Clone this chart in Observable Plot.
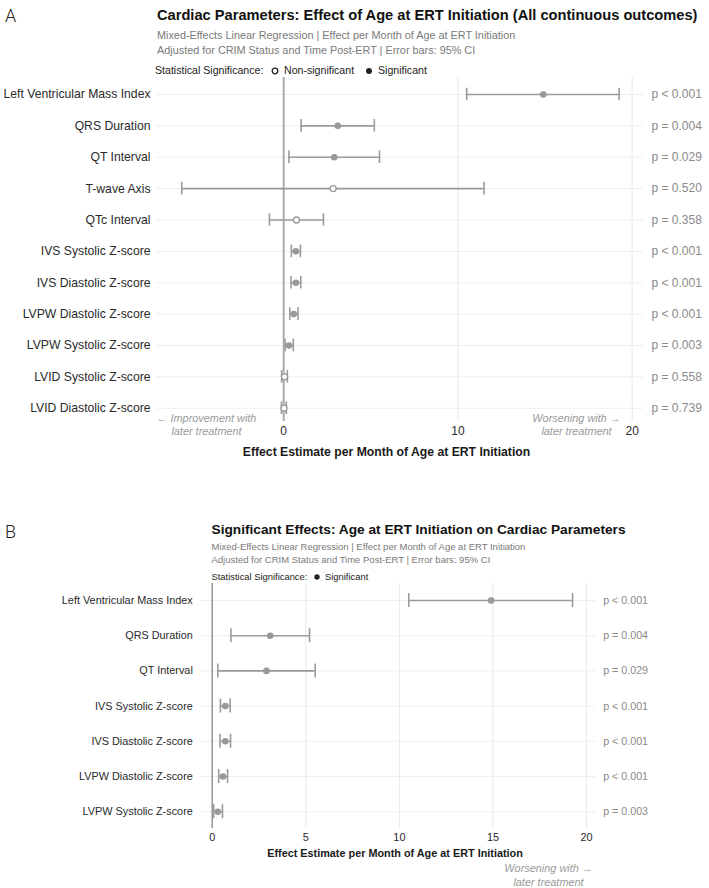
<!DOCTYPE html>
<html><head><meta charset="utf-8">
<script src="https://cdn.jsdelivr.net/npm/d3@7"></script>
<script src="https://cdn.jsdelivr.net/npm/@observablehq/plot@0.6"></script>
<style>
body{margin:0;background:#fff;font-family:"Liberation Sans",Arial,sans-serif;}
#page{position:relative;width:709px;height:888px;overflow:hidden;background:#fff;}
.abs{position:absolute;white-space:nowrap;}
</style></head><body><div id="page"></div>
<script>
// ---------------- data ----------------
const outcomes = [
  "Left Ventricular Mass Index", "QRS Duration", "QT Interval", "T-wave Axis",
  "QTc Interval", "IVS Systolic Z-score", "IVS Diastolic Z-score",
  "LVPW Diastolic Z-score", "LVPW Systolic Z-score", "LVID Systolic Z-score",
  "LVID Diastolic Z-score"
];
const estimates = [14.9, 3.1, 2.9, 2.84, 0.73, 0.7, 0.7, 0.58, 0.3, 0.05, 0.02];
const ciLow     = [10.5, 1.0, 0.3, -5.85, -0.82, 0.44, 0.42, 0.35, 0.08, -0.12, -0.13];
const ciHigh    = [19.25, 5.2, 5.5, 11.5, 2.28, 0.96, 0.98, 0.82, 0.55, 0.21, 0.15];
const pLabels   = ["p < 0.001", "p = 0.004", "p = 0.029", "p = 0.520", "p = 0.358",
                   "p < 0.001", "p < 0.001", "p < 0.001", "p = 0.003", "p = 0.558", "p = 0.739"];
const significant = [true, true, true, false, false, true, true, true, true, false, false];

const ticksA = [0, 10, 20];
const ticksB = [0, 5, 10, 15, 20];

const titleA = "Cardiac Parameters: Effect of Age at ERT Initiation (All continuous outcomes)";
const titleB = "Significant Effects: Age at ERT Initiation on Cardiac Parameters";
const subtitle1 = "Mixed-Effects Linear Regression | Effect per Month of Age at ERT Initiation";
const subtitle2 = "Adjusted for CRIM Status and Time Post-ERT | Error bars: 95% CI";
const xLabel = "Effect Estimate per Month of Age at ERT Initiation";
const legendTitle = "Statistical Significance:";
const legendNonSig = "Non-significant";
const legendSig = "Significant";
const noteLeft = "\u2190 Improvement with\nlater treatment";
const noteRight = "Worsening with \u2192\nlater treatment";

// ---------------- build ----------------
const rowsA = outcomes.map((name, i) => ({
  name, est: estimates[i], lo: ciLow[i], hi: ciHigh[i], p: pLabels[i], sig: significant[i]
}));
const rowsB = rowsA.filter(d => d.sig);
const outcomesB = rowsB.map(d => d.name);

const page = document.getElementById("page");
const FONT = '"Liberation Sans", Arial, sans-serif';

function addText(txt, left, cy, size, o = {}) {
  const d = document.createElement("div");
  d.className = "abs";
  d.textContent = txt;
  d.style.left = left + "px";
  d.style.top = (cy - size * 0.62) + "px";
  d.style.fontSize = size + "px";
  d.style.lineHeight = (size * 1.2) + "px";
  d.style.fontFamily = o.family || FONT;
  d.style.fontWeight = o.weight || "normal";
  d.style.color = o.color || "#222";
  page.appendChild(d);
}
function addCircle(cx, cy, r, filled) {
  const ns = "http://www.w3.org/2000/svg";
  const s = document.createElementNS(ns, "svg");
  s.setAttribute("width", 12); s.setAttribute("height", 12);
  s.style.position = "absolute";
  s.style.left = (cx - 6) + "px"; s.style.top = (cy - 6) + "px";
  const c = document.createElementNS(ns, "circle");
  c.setAttribute("cx", 6); c.setAttribute("cy", 6); c.setAttribute("r", r);
  c.setAttribute("fill", filled ? "#222" : "white");
  c.setAttribute("stroke", "#222");
  c.setAttribute("stroke-width", filled ? 0 : 1.3);
  s.appendChild(c);
  page.appendChild(s);
}

// ---- Panel A header ----
addText("A", 5, 16, 18, {family: "Roboto, " + FONT, weight: 300, color: "#222"});
addText(titleA, 157, 16.5, 14.65, {weight: "bold", color: "#111"});
addText(subtitle1, 157, 35.5, 10.85, {color: "#7a7a7a"});
addText(subtitle2, 157, 50.5, 10.85, {color: "#7a7a7a"});
addText(legendTitle, 155, 70.5, 10.6, {color: "#222"});
addCircle(275, 70.5, 2.8, false);
addText(legendNonSig, 284, 70.5, 10.6, {color: "#222"});
addCircle(369, 70.5, 3, true);
addText(legendSig, 378, 70.5, 10.6, {color: "#222"});

// ---- Panel B header ----
addText("B", 5, 532, 18, {family: "Roboto, " + FONT, weight: 300, color: "#222"});
addText(titleB, 211.5, 530.5, 13.7, {weight: "bold", color: "#111"});
addText(subtitle1, 211.5, 546.5, 9.5, {color: "#7a7a7a"});
addText(subtitle2, 211.5, 559.5, 9.5, {color: "#7a7a7a"});
addText(legendTitle, 211.5, 577, 9.4, {color: "#222"});
addCircle(316.6, 577, 2.7, true);
addText(legendSig, 325, 577, 9.4, {color: "#222"});

function panel(rows, cats, cfg) {
  const svg = Plot.plot({
    width: 709,
    height: cfg.height,
    marginLeft: cfg.left,
    marginRight: 709 - cfg.right,
    marginTop: 0,
    marginBottom: cfg.height - cfg.frameBottom,
    style: {background: "transparent", fontFamily: FONT, overflow: "visible"},
    x: {domain: cfg.xDomain},
    y: {type: "band", domain: cats, range: cfg.yRange, padding: 0, round: false},
    marks: [
      Plot.gridY({stroke: "#ececec", strokeOpacity: 1, strokeWidth: 0.9}),
      Plot.gridX({ticks: cfg.ticks, stroke: "#e6e6e6", strokeOpacity: 1, strokeWidth: 0.9}),
      Plot.ruleX([0], {stroke: cfg.zeroColor, strokeWidth: cfg.zeroWidth}),
      Plot.ruleY(rows, {y: "name", x1: "lo", x2: "hi", stroke: "#9a9a9a", strokeWidth: 1.6}),
      Plot.tickX(rows, {x: "lo", y: "name", stroke: "#9a9a9a", strokeWidth: 1.6, insetTop: cfg.capInset, insetBottom: cfg.capInset}),
      Plot.tickX(rows, {x: "hi", y: "name", stroke: "#9a9a9a", strokeWidth: 1.6, insetTop: cfg.capInset, insetBottom: cfg.capInset}),
      Plot.dot(rows.filter(d => d.sig), {x: "est", y: "name", r: 3.3, fill: "#999", stroke: "none"}),
      Plot.dot(rows.filter(d => !d.sig), {x: "est", y: "name", r: 3.0, fill: "white", stroke: "#999", strokeWidth: 1.3}),
      Plot.text(rows, {y: "name", text: "p", frameAnchor: "right", textAnchor: "start", dx: cfg.pDx, fill: "#8a8a8a", fontSize: cfg.pSize}),
      Plot.axisY({tickSize: 0, tickPadding: cfg.yPad, fontSize: cfg.ySize, fill: "#2a2a2a", label: null}),
      Plot.axisX({ticks: cfg.ticks, tickSize: 0, tickPadding: cfg.xPad, fontSize: cfg.xSize, fill: "#2a2a2a", label: null}),
      Plot.text([xLabel], {text: d => d, frameAnchor: "bottom", dx: cfg.labelDx, dy: cfg.labelDy, lineAnchor: "middle", fontWeight: "bold", fontSize: cfg.labelSize, fill: "#1a1a1a"}),
      ...cfg.notes.map(n => Plot.text([n.text], {text: d => d, frameAnchor: n.anchor, dx: n.dx, dy: cfg.noteDy, lineAnchor: "middle", textAnchor: "middle", fontStyle: "italic", fill: "#9a9a9a", fontSize: 10.9, lineHeight: cfg.noteLH}))
    ]
  });
  svg.style.position = "absolute";
  svg.style.left = "0px";
  svg.style.top = cfg.top + "px";
  page.appendChild(svg);
}

// Panel A: frame top at page y 77, first row 94, last row 407.7
panel(rowsA, outcomes, {
  top: 77, height: 393, frameBottom: 344, left: 156, right: 643,
  xDomain: [-7.3, 20.65], yRange: [1.3, 346.4], ticks: ticksA,
  zeroColor: "#ababab", zeroWidth: 2, capInset: 9.4,
  pDx: 8, pSize: 12, yPad: 6, ySize: 12.2, xPad: 4.8, xSize: 12,
  labelDx: -13.5, labelDy: 30.7, labelSize: 12.2,
  noteDy: 3, noteLH: 1.23,
  notes: [
    {text: noteLeft, anchor: "bottom-left", dx: 50},
    {text: noteRight, anchor: "bottom-right", dx: -67}
  ]
});

// Panel B: frame top at page y 583, first row 600, last row 811.2
panel(rowsB, outcomesB, {
  top: 583, height: 305, frameBottom: 245, left: 200, right: 595,
  xDomain: [-0.625, 20.475], yRange: [-0.6, 245.8], ticks: ticksB,
  zeroColor: "#8a8a8a", zeroWidth: 1.3, capInset: 10.6,
  pDx: 7.7, pSize: 10.7, yPad: 7.7, ySize: 10.86, xPad: 5.2, xSize: 10.9,
  labelDx: -3, labelDy: 24.7, labelSize: 10.85,
  noteDy: 46, noteLH: 1.25,
  notes: [
    {text: noteRight, anchor: "bottom-right", dx: -47}
  ]
});
</script>
</body></html>
